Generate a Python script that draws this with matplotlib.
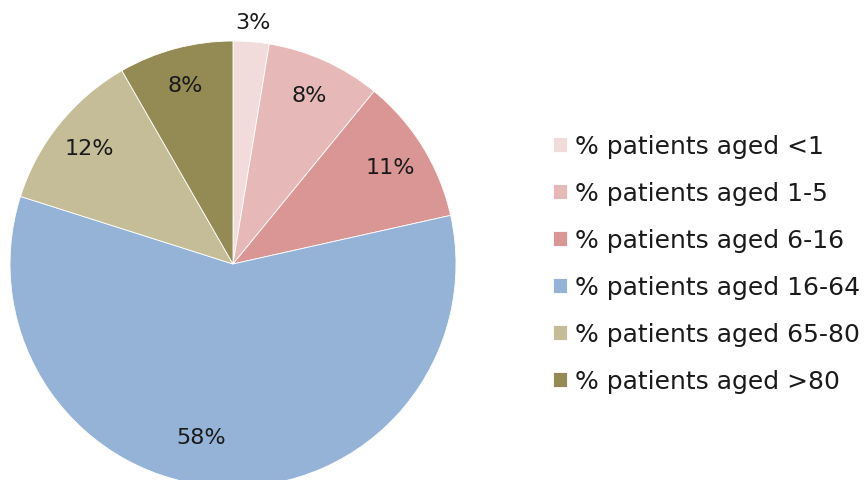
import numpy as np
import matplotlib
matplotlib.use("Agg")
import matplotlib.pyplot as plt

# share of patients by age band (percent)
age_groups = ["<1", "1-5", "6-16", "16-64", "65-80", ">80"]
shares = [2.6, 8.3, 10.6, 58.4, 11.8, 8.3]
colors = ["#F2DCDB", "#E6B9B8", "#D99694", "#95B3D7", "#C4BD97", "#948A54"]

plt.rcParams["font.family"] = ["DejaVu Sans"]

W, H = 864, 481
fig = plt.figure(figsize=(W / 100, H / 100), dpi=100, facecolor="white")

# pie centre and radius in pixels
cx, cy, r = 233, 265, 223
ax = fig.add_axes([(cx - r) / W, (H - cy - r) / H, 2 * r / W, 2 * r / H])

wedges, texts, autotexts = ax.pie(
    shares, colors=colors, startangle=90, counterclock=False,
    autopct=lambda p: "%d%%" % round(p), pctdistance=0.83,
    wedgeprops=dict(edgecolor="white", linewidth=0.6),
    textprops=dict(fontsize=16, color="#1a1a1a"),
)
ax.set_xlim(-1, 1)
ax.set_ylim(-1, 1)
ax.set_aspect("equal")

# smallest slice label sits just outside the pie
w0 = wedges[0]
mid = np.deg2rad((w0.theta1 + w0.theta2) / 2)
autotexts[0].set_position((1.09 * np.cos(mid), 1.09 * np.sin(mid)))
# big slice label is placed a little left of its middle
w3 = wedges[3]
mid = np.deg2rad((w3.theta1 + w3.theta2) / 2 - 8)
autotexts[3].set_position((0.79 * np.cos(mid), 0.79 * np.sin(mid)))

labels = ["% patients aged " + g for g in age_groups]
fig.legend(wedges, labels, loc="center left",
           bbox_to_anchor=(553 / W, (H - 265) / H),
           frameon=False, fontsize=18, handlelength=0.56, handleheight=0.56,
           handletextpad=0.32, labelspacing=0.92, borderpad=0, borderaxespad=0,
           labelcolor="#1a1a1a")

fig.savefig("out.png", dpi=100, facecolor="white")
